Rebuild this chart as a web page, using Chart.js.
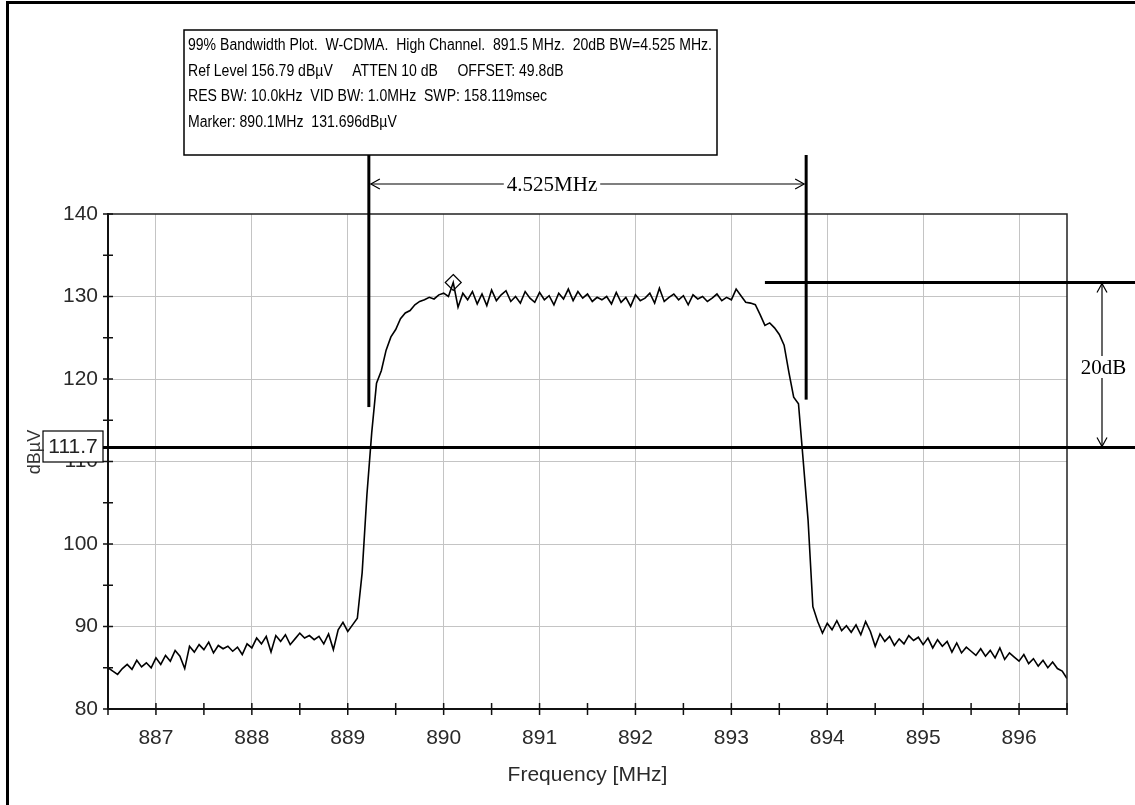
<!DOCTYPE html>
<html>
<head>
<meta charset="utf-8">
<script src="https://cdn.jsdelivr.net/npm/chart.js@4.4.0/dist/chart.umd.min.js"></script>
<style>
html, body { margin: 0; padding: 0; background: #fff; }
#wrap { width: 1135px; height: 805px; position: relative; }
</style>
</head>
<body>
<div id="wrap"><canvas id="bwChart" width="1135" height="805"></canvas></div>
<script>
// sweep grid of the analyzer: 886.5 .. 896.5 MHz, one reading every 0.05 MHz
var sweepStart = 886.5;
var sweepStep = 0.05;

// trace levels in dBuV
var levels = [
  85.0, 84.6, 84.2, 84.9, 85.4, 84.8, 85.9, 85.1, 85.6, 85.0,
  86.2, 85.4, 86.5, 85.8, 87.1, 86.4, 84.9, 87.6, 86.9, 87.8,
  87.2, 88.1, 86.8, 87.7, 87.3, 87.6, 87.0, 87.5, 86.6, 87.9,
  87.4, 88.6, 87.9, 88.8, 86.9, 88.9, 88.2, 89.0, 87.8, 88.5,
  89.2, 88.6, 88.9, 88.4, 88.8, 87.9, 89.1, 87.2, 89.6, 90.5,
  89.4, 90.2, 91.0, 96.5, 106.0, 113.5, 119.5, 121.0, 123.5, 125.1,
  126.0, 127.3, 128.0, 128.3, 129.0, 129.4, 129.6, 129.9, 129.7, 130.2,
  130.4, 130.0, 131.7, 128.7, 130.4, 129.6, 130.6, 129.1, 130.3, 128.9,
  130.8, 129.5, 130.2, 130.7, 129.4, 130.0, 129.2, 130.6, 129.8, 129.3,
  130.5, 129.6, 130.1, 129.0, 130.4, 129.7, 130.9, 129.5, 130.6, 129.8,
  130.3, 129.4, 129.9, 129.6, 130.0, 129.1, 130.5, 129.3, 129.9, 128.8,
  130.2, 129.5, 129.8, 130.4, 129.2, 131.0, 129.4, 129.9, 130.3, 129.6,
  130.1, 129.0, 130.2, 129.7, 130.0, 129.4, 129.8, 130.3, 129.5, 129.9,
  129.6, 130.9, 130.1, 129.3, 129.2, 129.0, 127.8, 126.5, 126.8, 126.2,
  125.4, 124.1, 120.8, 117.8, 117.0, 110.0, 102.9, 92.4, 90.6, 89.2,
  90.4, 89.6, 90.7, 89.5, 90.1, 89.3, 90.2, 89.0, 90.6, 89.4,
  87.6, 89.1, 88.2, 88.8, 87.7, 88.5, 87.9, 88.9, 88.3, 88.7,
  87.8, 88.6, 87.4, 88.4, 87.6, 88.2, 86.9, 88.0, 86.8, 87.5,
  87.0, 86.5, 87.3, 86.4, 87.1, 86.2, 87.4, 86.0, 86.8, 86.3,
  85.8, 86.6, 85.5, 86.1, 85.2, 85.9, 85.0, 85.7, 84.9, 84.6,
  83.7
];

var freqMin = 886.5;
var freqMax = 896.5;
var levelMin = 80;
var levelMax = 140;

var infoLines = [
  '99% Bandwidth Plot.  W-CDMA.  High Channel.  891.5 MHz.  20dB BW=4.525 MHz.',
  'Ref Level 156.79 dB\u00b5V     ATTEN 10 dB     OFFSET: 49.8dB',
  'RES BW: 10.0kHz  VID BW: 1.0MHz  SWP: 158.119msec',
  'Marker: 890.1MHz  131.696dB\u00b5V'
];

var markerFreq = 890.1;
var markerLevel = 131.7;
var bwEdges = [889.22, 893.78];     // 99% bandwidth edges
var bwEdgeBottoms = [116.6, 117.5]; // where the edge bars stop
var bwLabel = '4.525MHz';
var peakLevel = 131.7;
var refLevel = 111.7;
var peakLineFrom = 893.35;
var dropLabel = '20dB';

var points = levels.map(function (v, i) {
  return { x: sweepStart + i * sweepStep, y: v };
});

function isWhole(v) { return Math.abs(v - Math.round(v)) < 1e-6; }

function arrowHead(ctx, x, y, dx, dy) {
  // open V head pointing along (dx, dy)
  var len = 9, half = 5;
  var px = -dy, py = dx;
  ctx.beginPath();
  ctx.moveTo(x - dx * len + px * half, y - dy * len + py * half);
  ctx.lineTo(x, y);
  ctx.lineTo(x - dx * len - px * half, y - dy * len - py * half);
  ctx.stroke();
}

var overlay = {
  id: 'overlay',
  beforeDraw: function (chart) {
    var ctx = chart.ctx;
    ctx.save();
    ctx.fillStyle = '#fff';
    ctx.fillRect(0, 0, chart.width, chart.height);
    ctx.restore();
  },
  afterDraw: function (chart) {
    var ctx = chart.ctx;
    var xs = chart.scales.x, ys = chart.scales.y;
    var a = chart.chartArea;
    ctx.save();

    // frame top / right
    ctx.strokeStyle = '#222';
    ctx.lineWidth = 1.5;
    ctx.beginPath();
    ctx.moveTo(a.left, a.top);
    ctx.lineTo(a.right, a.top);
    ctx.lineTo(a.right, a.bottom);
    ctx.stroke();

    // crossing ticks
    ctx.strokeStyle = '#111';
    ctx.lineWidth = 1.5;
    xs.ticks.forEach(function (t) {
      var px = xs.getPixelForValue(t.value);
      ctx.beginPath();
      ctx.moveTo(px, a.bottom - 6);
      ctx.lineTo(px, a.bottom + 6);
      ctx.stroke();
    });
    ys.ticks.forEach(function (t) {
      var py = ys.getPixelForValue(t.value);
      ctx.beginPath();
      ctx.moveTo(a.left - 5, py);
      ctx.lineTo(a.left + 5, py);
      ctx.stroke();
    });

    // marker diamond
    var mx = xs.getPixelForValue(markerFreq), my = ys.getPixelForValue(markerLevel);
    ctx.strokeStyle = '#000';
    ctx.lineWidth = 1.2;
    ctx.beginPath();
    ctx.moveTo(mx, my - 8);
    ctx.lineTo(mx + 8, my);
    ctx.lineTo(mx, my + 8);
    ctx.lineTo(mx - 8, my);
    ctx.closePath();
    ctx.stroke();

    // info box
    var bx = 184, by = 30, bw = 533, bh = 125;
    ctx.fillStyle = '#fff';
    ctx.fillRect(bx, by, bw, bh);
    ctx.strokeStyle = '#000';
    ctx.lineWidth = 1.5;
    ctx.strokeRect(bx, by, bw, bh);
    ctx.fillStyle = '#000';
    ctx.font = '16px "Liberation Sans", Arial, sans-serif';
    ctx.textBaseline = 'middle';
    ctx.textAlign = 'left';
    var sx = 524 / ctx.measureText(infoLines[0]).width;
    infoLines.forEach(function (line, i) {
      ctx.save();
      ctx.translate(bx + 4, by + 16 + i * 25.5);
      ctx.scale(sx, 1);
      ctx.fillText(line, 0, 0);
      ctx.restore();
    });

    // bandwidth edge bars
    ctx.strokeStyle = '#000';
    ctx.lineWidth = 3;
    bwEdges.forEach(function (f, i) {
      var px = xs.getPixelForValue(f);
      ctx.beginPath();
      ctx.moveTo(px, by + bh);
      ctx.lineTo(px, ys.getPixelForValue(bwEdgeBottoms[i]));
      ctx.stroke();
    });

    // peak and -20 dB reference lines
    var yPeak = ys.getPixelForValue(peakLevel);
    var yRef = ys.getPixelForValue(refLevel);
    ctx.beginPath();
    ctx.moveTo(xs.getPixelForValue(peakLineFrom), yPeak);
    ctx.lineTo(chart.width, yPeak);
    ctx.moveTo(a.left - 5, yRef);
    ctx.lineTo(chart.width, yRef);
    ctx.stroke();

    // bandwidth arrow
    var x0 = xs.getPixelForValue(bwEdges[0]) + 2, x1 = xs.getPixelForValue(bwEdges[1]) - 2;
    var ay = 184;
    ctx.lineWidth = 1.2;
    ctx.beginPath();
    ctx.moveTo(x0, ay);
    ctx.lineTo(x1, ay);
    ctx.stroke();
    arrowHead(ctx, x0, ay, -1, 0);
    arrowHead(ctx, x1, ay, 1, 0);
    ctx.font = '21px "Liberation Serif", "Times New Roman", serif';
    ctx.textAlign = 'center';
    var lw = ctx.measureText(bwLabel).width;
    ctx.fillStyle = '#fff';
    ctx.fillRect(552 - lw / 2 - 3, ay - 10, lw + 6, 20);
    ctx.fillStyle = '#000';
    ctx.fillText(bwLabel, 552, ay + 1);

    // 20 dB arrow
    var ax = 1102;
    ctx.beginPath();
    ctx.moveTo(ax, yPeak + 1);
    ctx.lineTo(ax, yRef - 1);
    ctx.stroke();
    arrowHead(ctx, ax, yPeak + 1, 0, -1);
    arrowHead(ctx, ax, yRef - 1, 0, 1);
    var dw = ctx.measureText(dropLabel).width;
    ctx.fillStyle = '#fff';
    ctx.fillRect(1103.5 - dw / 2 - 2, 356, dw + 4, 22);
    ctx.fillStyle = '#000';
    ctx.fillText(dropLabel, 1103.5, 368);

    // reference level readout
    ctx.fillStyle = '#fff';
    ctx.fillRect(43, 431, 60, 31);
    ctx.strokeStyle = '#000';
    ctx.lineWidth = 1.2;
    ctx.strokeRect(43, 431, 60, 31);
    ctx.fillStyle = '#222';
    ctx.font = '21px "Liberation Sans", Arial, sans-serif';
    ctx.fillText(refLevel.toFixed(1), 73, 447);

    // y axis unit
    ctx.save();
    ctx.translate(35, 452);
    ctx.rotate(-Math.PI / 2);
    ctx.font = '18px "Liberation Sans", Arial, sans-serif';
    ctx.fillStyle = '#333';
    ctx.fillText('dB\u00b5V', 0, 0);
    ctx.restore();

    // outer frame
    ctx.fillStyle = '#000';
    ctx.fillRect(6, 1, 3, chart.height - 1);
    ctx.fillRect(6, 1, chart.width - 6, 3);

    ctx.restore();
  }
};

new Chart(document.getElementById('bwChart').getContext('2d'), {
  type: 'line',
  data: {
    datasets: [{
      data: points,
      borderColor: '#000',
      borderWidth: 1.6,
      pointRadius: 0,
      tension: 0,
      fill: false
    }]
  },
  options: {
    responsive: false,
    animation: false,
    events: [],
    layout: { padding: { left: 0, top: 214, right: 68, bottom: 0 } },
    plugins: { legend: { display: false }, tooltip: { enabled: false } },
    scales: {
      x: {
        type: 'linear',
        min: freqMin,
        max: freqMax,
        afterFit: function (s) { s.height = 96; },
        ticks: {
          stepSize: 0.5,
          autoSkip: false,
          maxRotation: 0,
          padding: 17,
          color: '#2a2a2a',
          font: { family: '"Liberation Sans", Arial, sans-serif', size: 21 },
          callback: function (v) { return isWhole(v) ? Math.round(v) : ''; }
        },
        grid: {
          drawTicks: false,
          lineWidth: 1,
          color: function (c) {
            var v = c.tick ? c.tick.value : 0;
            return isWhole(v) && v > freqMin && v < freqMax ? '#c4c4c4' : 'rgba(0,0,0,0)';
          }
        },
        border: { display: true, color: '#111', width: 2 },
        title: {
          display: true,
          text: 'Frequency [MHz]',
          color: '#2a2a2a',
          font: { family: '"Liberation Sans", Arial, sans-serif', size: 21 },
          padding: { top: 0, bottom: 17 }
        }
      },
      y: {
        min: levelMin,
        max: levelMax,
        afterFit: function (s) { s.width = 108; },
        ticks: {
          stepSize: 5,
          padding: 10,
          color: '#2a2a2a',
          font: { family: '"Liberation Sans", Arial, sans-serif', size: 21 },
          callback: function (v) { return v % 10 === 0 ? v : ''; }
        },
        grid: {
          drawTicks: false,
          lineWidth: 1,
          color: function (c) {
            var v = c.tick ? c.tick.value : 0;
            return v % 10 === 0 && v > levelMin && v < levelMax ? '#c4c4c4' : 'rgba(0,0,0,0)';
          }
        },
        border: { display: true, color: '#111', width: 2 }
      }
    }
  },
  plugins: [overlay]
});
</script>
</body>
</html>
